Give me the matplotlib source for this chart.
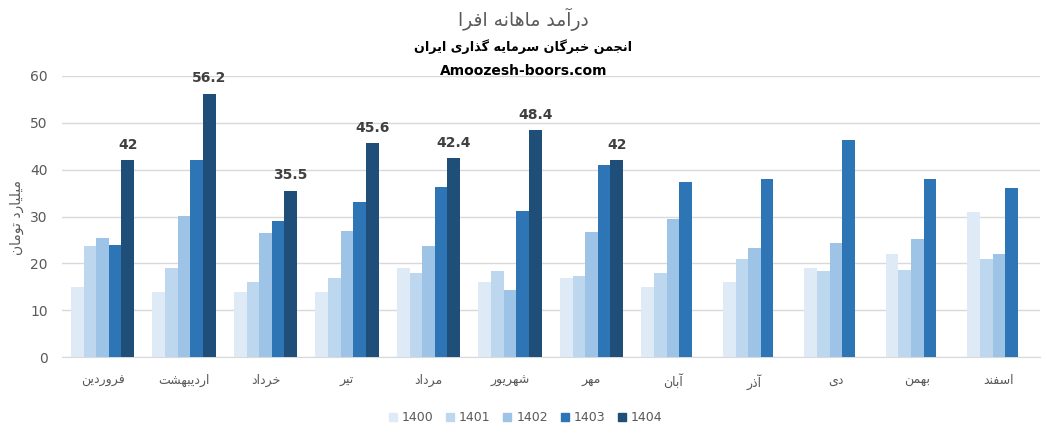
import numpy as np
import matplotlib.pyplot as plt
from matplotlib.patches import Patch

months = ['فروردین', 'اردیبهشت', 'خرداد', 'تیر', 'مرداد', 'شهریور',
          'مهر', 'آبان', 'آذر', 'دی', 'بهمن', 'اسفند']
years = ['1400', '1401', '1402', '1403', '1404']
y1400 = [15, 13.8, 13.8, 13.8, 18.9, 16, 16.8, 14.9, 16, 18.9, 21.9, 30.9]
y1401 = [23.8, 18.9, 16, 16.8, 17.9, 18.3, 17.4, 17.9, 20.9, 18.3, 18.5, 20.9]
y1402 = [25.5, 30.2, 26.4, 26.8, 23.6, 14.3, 26.6, 29.4, 23.2, 24.3, 25.1, 22.1]
y1403 = [24, 42, 29.1, 33, 36.2, 31.1, 41.1, 37.4, 38.1, 46.4, 37.9, 36]
y1404 = [42, 56.2, 35.5, 45.6, 42.4, 48.4, 42]
colors = ['#DEEAF6', '#BDD7EE', '#9DC3E6', '#2E75B6', '#1F4E79']

title = 'درآمد ماهانه افرا'
subtitle = 'انجمن خبرگان سرمایه گذاری ایران'
site = 'Amoozesh-boors.com'
ylabel = 'میلیارد تومان'

# matplotlib has no arabic shaping, so map letters to presentation forms
# (isolated, final, initial, medial) and reverse for right-to-left
forms = {
    'ا': (0xFE8D, 0xFE8E, None, None), 'آ': (0xFE81, 0xFE82, None, None),
    'ب': (0xFE8F, 0xFE90, 0xFE91, 0xFE92), 'پ': (0xFB56, 0xFB57, 0xFB58, 0xFB59),
    'ت': (0xFE95, 0xFE96, 0xFE97, 0xFE98), 'ج': (0xFE9D, 0xFE9E, 0xFE9F, 0xFEA0),
    'خ': (0xFEA5, 0xFEA6, 0xFEA7, 0xFEA8), 'د': (0xFEA9, 0xFEAA, None, None),
    'ذ': (0xFEAB, 0xFEAC, None, None), 'ر': (0xFEAD, 0xFEAE, None, None),
    'ز': (0xFEAF, 0xFEB0, None, None), 'س': (0xFEB1, 0xFEB2, 0xFEB3, 0xFEB4),
    'ش': (0xFEB5, 0xFEB6, 0xFEB7, 0xFEB8), 'ف': (0xFED1, 0xFED2, 0xFED3, 0xFED4),
    'گ': (0xFB92, 0xFB93, 0xFB94, 0xFB95), 'ل': (0xFEDD, 0xFEDE, 0xFEDF, 0xFEE0),
    'م': (0xFEE1, 0xFEE2, 0xFEE3, 0xFEE4), 'ن': (0xFEE5, 0xFEE6, 0xFEE7, 0xFEE8),
    'و': (0xFEED, 0xFEEE, None, None), 'ه': (0xFEE9, 0xFEEA, 0xFEEB, 0xFEEC),
    'ی': (0xFBFC, 0xFBFD, 0xFBFE, 0xFBFF),
}


def fa(s):
    out = []
    for i, c in enumerate(s):
        if c not in forms:
            out.append(c)
            continue
        prev = s[i - 1] if i > 0 else ''
        nxt = s[i + 1] if i + 1 < len(s) else ''
        jp = prev in forms and forms[prev][2] is not None
        jn = forms[c][2] is not None and nxt in forms
        iso, fin, ini, med = forms[c]
        if jp and jn:
            code = med
        elif jp:
            code = fin
        elif jn:
            code = ini
        else:
            code = iso
        out.append(chr(code))
    return ''.join(out)[::-1]


fig = plt.figure(figsize=(10.47, 4.33), dpi=100)
ax = fig.add_axes([0.059, 0.1755, 0.934, 0.649])

x = np.arange(len(months))
w = 0.155
series = [y1400, y1401, y1402, y1403, y1404]
for k, vals in enumerate(series):
    xs = x[:len(vals)] + (k - 2) * w
    ax.bar(xs, vals, w, color=colors[k], zorder=3)
    if k == 4:
        for xi, v in zip(xs, vals):
            ax.text(xi, v + 1.8, f'{v:g}', ha='center', va='bottom',
                    fontsize=10, fontweight='bold', color='#404040')

ax.set_xlim(-0.5, 11.5)
ax.set_ylim(0, 60)
ax.set_yticks(range(0, 61, 10))
ax.grid(axis='y', color='#D9D9D9', lw=1, zorder=0)
for s in ['top', 'right', 'left']:
    ax.spines[s].set_visible(False)
ax.spines['bottom'].set_color('#D9D9D9')
ax.tick_params(length=0, colors='#595959', labelsize=10)
ax.tick_params(axis='y', pad=10)
ax.set_xticks(x)
ax.set_xticklabels([fa(m) for m in months], fontsize=9, color='#595959')
ax.tick_params(axis='x', pad=12)

fig.text(0.016, 0.497, fa(ylabel), rotation=90, ha='center', va='center',
         fontsize=10, color='#595959')
fig.text(0.5, 0.955, fa(title), ha='center', va='center', fontsize=13.5,
         color='#595959')
fig.text(0.5, 0.893, fa(subtitle), ha='center', va='center', fontsize=9.2,
         fontweight='bold', color='black')
fig.text(0.5, 0.837, site, ha='center', va='center', fontsize=10,
         fontweight='bold', color='black')

handles = [Patch(color=c) for c in colors]
fig.legend(handles, years, loc='center', bbox_to_anchor=(0.502, 0.035),
           ncol=5, frameon=False, fontsize=9, labelcolor='#595959',
           handlelength=0.65, handleheight=0.65, handletextpad=0.4,
           columnspacing=1.0)

fig.savefig('out.png', dpi=100)
